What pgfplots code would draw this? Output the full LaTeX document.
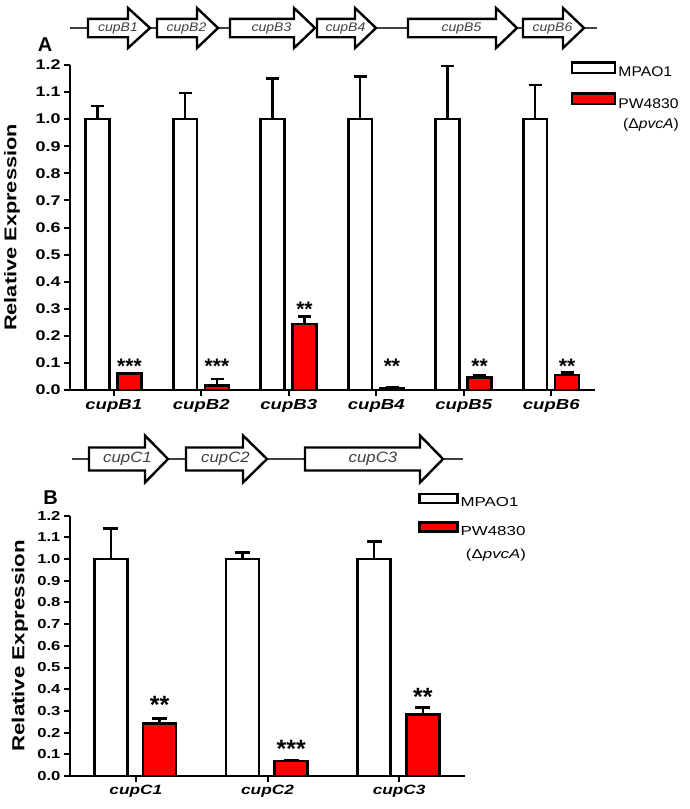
\documentclass[border=0pt]{standalone}
\usepackage{fontspec}
\setmainfont{Liberation Sans}
\newfontfamily\axfont[FakeStretch=1.28]{Liberation Sans}
\newfontfamily\legBfont[FakeStretch=1.3]{Liberation Sans}
\newfontfamily\legAfont[FakeStretch=1.12]{Liberation Sans}
\newfontfamily\genfam[FakeStretch=1.12]{Liberation Sans}
\usepackage{pgfplots}
\usepackage{pgfplotstable}
\pgfplotsset{compat=1.18}

\pgfplotstableread{
x w we r re
1 1.0 0.049 0.060 0.003
2 1.0 0.096 0.016 0.024
3 1.0 0.150 0.244 0.027
4 1.0 0.157 0.008 0.002
5 1.0 0.196 0.047 0.008
6 1.0 0.126 0.055 0.009
}\dataA

\pgfplotstableread{
x w we r re
1 1.0 0.141 0.243 0.023
2 1.0 0.031 0.069 0.004
3 1.0 0.080 0.283 0.034
}\dataB

\pgfplotsset{
 cupstyle/.style={
  scale only axis, clip=false,
  axis x line=bottom, axis y line=left,
  axis line style={-, line width=2pt, black},
  ymin=0, ymax=1.2,
  ytick={0,0.1,0.2,0.3,0.4,0.5,0.6,0.7,0.8,0.9,1.0,1.1,1.2},
  yticklabel style={/pgf/number format/fixed, /pgf/number format/fixed zerofill, /pgf/number format/precision=1},
  /pgf/number format/assume math mode=true,
  tick align=outside, major tick length=6pt,
  tick style={line width=2pt, black},
  ybar,
 }
}

\newcommand{\gene}[4]{%
 \draw[line width=2.4pt, fill=white, line join=miter] (#1,\yc+\bh) -- (#2,\yc+\bh) -- (#2,\yc+\hh) -- (#3,\yc) -- (#2,\yc-\hh) -- (#2,\yc-\bh) -- (#1,\yc-\bh) -- cycle;
 \node[font=\genefont, text=black!75, inner sep=0pt] at ({(#1+#3)/2-1},\yc) {#4};}

\begin{document}
\begin{tikzpicture}[x=1pt,y=1pt]
\path[use as bounding box] (0pt,0pt) rectangle (690pt,-809pt);

% ---------- gene map A ----------
\def\yc{-28}\def\bh{9.2}\def\hh{20}
\def\genefont{\genfam\itshape\fontsize{12.5}{14}\selectfont}
\draw[line width=1.3pt, black!75] (70,-28) -- (597,-28);
\gene{88}{128}{150}{cupB1}
\gene{157}{197}{218}{cupB2}
\gene{230}{294}{315}{cupB3}
\gene{317}{355}{376}{cupB4}
\gene{408}{496}{517}{cupB5}
\gene{523}{563}{584}{cupB6}
\node[font=\bfseries\fontsize{20}{22}\selectfont] at (45,-44.5) {A};

% ---------- gene map B ----------
\def\yc{-459}\def\bh{11.5}\def\hh{23.5}
\def\genefont{\genfam\itshape\fontsize{15}{18}\selectfont}
\draw[line width=1.3pt, black!75] (72,-459) -- (463,-459);
\gene{89}{145}{168}{cupC1}
\gene{186}{243}{267}{cupC2}
\gene{305}{420}{443}{cupC3}
\node[font=\bfseries\fontsize{20}{22}\selectfont] at (50.5,-497.5) {B};

% legend second lines
\node[font=\legAfont\fontsize{14}{16.5}\selectfont] at (651,-125) {(Δ\textit{pvcA})};
\node[font=\legBfont\fontsize{13}{15.5}\selectfont] at (496,-555) {(Δ\textit{pvcA})};

% ---------- panel A ----------
\begin{axis}[cupstyle,
 at={(70pt,-390pt)}, anchor=south west,
 width=525pt, height=325pt,
 xmin=0.5, xmax=6.5,
 xtick={1,2,3,4,5,6},
 xticklabels={cupB1,cupB2,cupB3,cupB4,cupB5,cupB6},
 xticklabel style={font=\axfont\bfseries\itshape\fontsize{14.5}{16}\selectfont},
 yticklabel style={font=\axfont\bfseries\fontsize{14}{15}\selectfont},
 ylabel={Relative Expression},
 ylabel style={at={(axis description cs:-0.1105,0.5)}, anchor=center,
   font=\axfont\bfseries\fontsize{17}{20}\selectfont},
 legend style={at={(axis description cs:0.954,1.012)}, anchor=north west,
   draw=none, fill=none, inner sep=0pt, row sep=12pt,
   font=\legAfont\fontsize{14}{16.5}\selectfont,
   nodes={inner sep=2pt}},
 legend cell align=left,
]
\addplot[fill=white, draw=black, line width=2.6pt, bar shift=-0.185, bar width=0.27,
  legend image code/.code={\draw[fill=white, draw=black, line width=2.4pt] (0pt,-0.3pt) rectangle (43pt,10.3pt);},
  error bars/.cd, y dir=plus, y explicit, error mark=-,
  error bar style={line width=2.6pt, black},
  error mark options={rotate=90, line width=2.6pt, mark size=6.5pt, black}]
  table[x=x, y=w, y error=we] {\dataA};
\addlegendentry{MPAO1}
\addplot[fill=red, draw=black, line width=2.6pt, bar shift=0.18, bar width=0.27,
  legend image code/.code={\draw[fill=red, draw=black, line width=2.4pt] (0pt,-0.3pt) rectangle (43pt,10.3pt);},
  error bars/.cd, y dir=plus, y explicit, error mark=-,
  error bar style={line width=2.6pt, black},
  error mark options={rotate=90, line width=2.6pt, mark size=6.5pt, black}]
  table[x=x, y=r, y error=re] {\dataA};
\addlegendentry{PW4830}
\begin{scope}[every node/.style={font=\bfseries\fontsize{21}{24}\selectfont, anchor=base, yshift=-11.6pt}]
\node at (axis cs:1.18,0.105) {***};
\node at (axis cs:2.18,0.105) {***};
\node at (axis cs:3.18,0.314) {**};
\node at (axis cs:4.18,0.105) {**};
\node at (axis cs:5.18,0.105) {**};
\node at (axis cs:6.18,0.105) {**};
\end{scope}
\end{axis}

% ---------- panel B ----------
\begin{axis}[cupstyle,
 at={(70pt,-776pt)}, anchor=south west,
 width=395pt, height=260.4pt,
 xmin=0.5, xmax=3.5,
 xtick={1,2,3},
 xticklabels={cupC1,cupC2,cupC3},
 xticklabel style={font=\axfont\bfseries\itshape\fontsize{13.5}{15}\selectfont},
 yticklabel style={font=\axfont\bfseries\fontsize{13}{14}\selectfont},
 ylabel={Relative Expression},
 ylabel style={at={(axis description cs:-0.1266,0.5)}, anchor=center,
   font=\axfont\bfseries\fontsize{17.4}{20}\selectfont},
 legend style={at={(axis description cs:0.881,1.088)}, anchor=north west,
   draw=none, fill=none, inner sep=0pt, row sep=11pt,
   font=\legBfont\fontsize{13}{15.5}\selectfont,
   nodes={inner sep=2pt}},
 legend cell align=left,
]
\addplot[fill=white, draw=black, line width=2.6pt, bar shift=-0.19, bar width=0.25,
  legend image code/.code={\draw[fill=white, draw=black, line width=2.4pt] (0pt,0pt) rectangle (38pt,9pt);},
  error bars/.cd, y dir=plus, y explicit, error mark=-,
  error bar style={line width=2.6pt, black},
  error mark options={rotate=90, line width=2.6pt, mark size=7.5pt, black}]
  table[x=x, y=w, y error=we] {\dataB};
\addlegendentry{MPAO1}
\addplot[fill=red, draw=black, line width=2.6pt, bar shift=0.18, bar width=0.25,
  legend image code/.code={\draw[fill=red, draw=black, line width=2.4pt] (0pt,0pt) rectangle (38pt,9pt);},
  error bars/.cd, y dir=plus, y explicit, error mark=-,
  error bar style={line width=2.6pt, black},
  error mark options={rotate=90, line width=2.6pt, mark size=7.5pt, black}]
  table[x=x, y=r, y error=re] {\dataB};
\addlegendentry{PW4830}
\begin{scope}[every node/.style={font=\bfseries\fontsize{25}{28}\selectfont, anchor=base, yshift=-13.8pt}]
\node at (axis cs:1.18,0.35) {**};
\node at (axis cs:2.18,0.15) {***};
\node at (axis cs:3.18,0.388) {**};
\end{scope}
\end{axis}
\end{tikzpicture}
\end{document}
